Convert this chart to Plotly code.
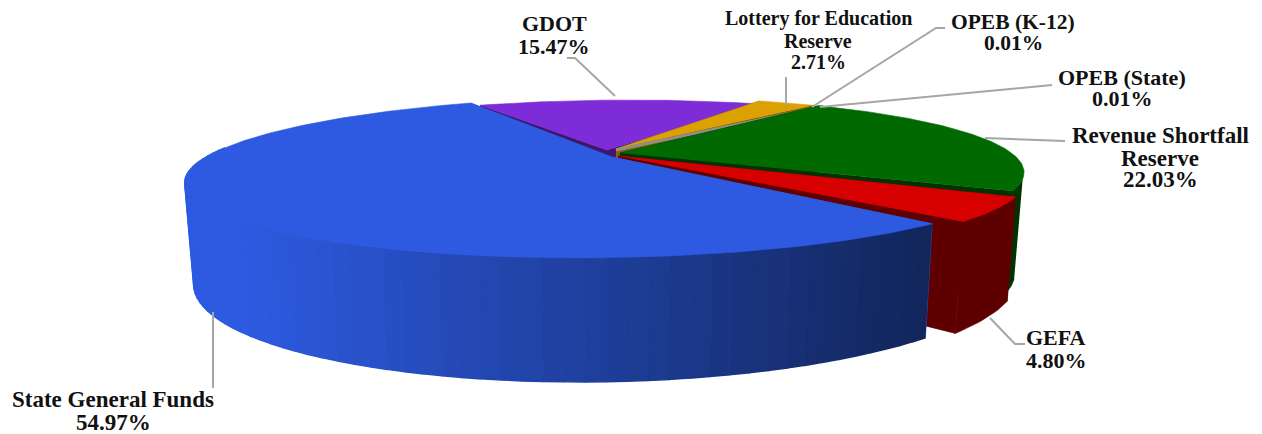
import numpy as np
import plotly.graph_objects as go

# ---- data ----
categories = ["State General Funds", "GDOT", "Lottery for Education Reserve",
              "OPEB (K-12)", "OPEB (State)", "Revenue Shortfall Reserve", "GEFA"]
shares = [54.97, 15.47, 2.71, 0.01, 0.01, 22.03, 4.80]
share_labels = ["54.97%", "15.47%", "2.71%", "0.01%", "0.01%", "22.03%", "4.80%"]

# ---- styles ----
top_colors = ["#2D5AE1", "#7E2BD8", "#DCA000", "#8E8E8E", "#8E8E8E", "#006A00", "#D60000"]
wall_colors = ["#2D5AE1", "#3F1570", "#8A6400", "#8E8E8E", "#8E8E8E", "#003300", "#5E0000"]
apex_shift = [(0, 4), (-5, -3), (4, -4), (4, -3), (4, -3), (8, 0), (6, 3)]
rim_shift = [(1, 0), (0, 3), (0, 0), (0, 0), (0, 0), (0, 0), (3, 6)]
inset_start = [4.5, 0, -3, 0, 0, -1, 0]
inset_end = [2, 3, 2, 0, 0, 0, 1]
draw_order = [1, 2, 3, 4, 5, 6, 0]
first_angle = -44.0

CX, CY, R, S, K, G = 612, 153, 399.5, 73, 0.304, 80
WALL_A, WALL_B, SHRINK = 22, 71, 0.979


def top_xy(theta_deg):
    t = np.radians(theta_deg)
    u, v = np.cos(t), np.sin(t)
    w = 1 + K * v
    return CX + R * u / w - G * (1 / w - 1), CY - S * v / w, w


def bottom(x, y, w):
    return CX + (x - CX) * SHRINK, y + WALL_A + WALL_B / w


def poly(xs, ys, color, lw=0.6):
    return go.Scatter(x=list(xs), y=list(ys), mode="lines", fill="toself", fillcolor=color,
                      line=dict(color=color, width=lw), hoverinfo="skip", showlegend=False)


def mix(c1, c2, f):
    a = [int(c1[i:i + 2], 16) for i in (1, 3, 5)]
    b = [int(c2[i:i + 2], 16) for i in (1, 3, 5)]
    return "#%02x%02x%02x" % tuple(int(round(p + (q - p) * f)) for p, q in zip(a, b))


fig = go.Figure()
edges = first_angle - np.cumsum([0] + shares) * 3.6

for i in draw_order:
    a0 = edges[i] - inset_start[i]
    a1 = edges[i + 1] + inset_end[i]
    dx, dy = rim_shift[i]
    adx, ady = apex_shift[i]
    n = max(3, int(abs(a0 - a1)))
    th = np.linspace(a0, a1, n)
    x0, y0, w = top_xy(th)
    x, y = x0 + dx, y0 + dy
    bx, by = bottom(x0, y0, w)
    bx, by = bx + dx, by + dy
    ax, ay = CX + adx, CY + ady
    abx, aby = CX + adx, CY + ady + WALL_A + WALL_B
    if top_colors[i] != "#8E8E8E":
        # cut faces
        fig.add_trace(poly([ax, x[0], bx[0], abx], [ay, y[0], by[0], aby], wall_colors[i]))
        fig.add_trace(poly([ax, x[-1], bx[-1], abx], [ay, y[-1], by[-1], aby], wall_colors[i]))
        # outer wall
        if i == 0:
            fine = np.linspace(a0, a1, 90)
            fx0, fy0, fw = top_xy(fine)
            fx, fy = fx0 + dx, fy0 + dy
            gx, gy = bottom(fx0, fy0, fw)
            gx, gy = gx + dx, gy + dy
            for j in range(len(fine) - 1):
                if fy[j] < 150 and fy[j + 1] < 150:
                    continue
                f = np.clip((0.5 * (fx[j] + fx[j + 1]) - 240) / (923 - 240), 0, 1)
                col = mix("#2D5AE1", "#12265C", f)
                fig.add_trace(poly([fx[j], fx[j + 1], gx[j + 1], gx[j]],
                                   [fy[j], fy[j + 1], gy[j + 1], gy[j]], col, 1.5))
        else:
            front = np.sin(np.radians(th)) < -K
            if front.sum() >= 2:
                fig.add_trace(poly(np.r_[x[front], bx[front][::-1]],
                                   np.r_[y[front], by[front][::-1]], wall_colors[i]))
        fig.add_trace(poly(np.r_[ax, x], np.r_[ay, y], top_colors[i]))
    else:
        fig.add_trace(go.Scatter(x=[ax, x[0]], y=[ay, y[0]], mode="lines",
                                 line=dict(color=top_colors[i], width=2.5),
                                 hoverinfo="skip", showlegend=False))

# leader lines
leaders = [
    ([213, 213], [312, 388]),
    ([567, 575, 615], [58, 58, 96]),
    ([786, 786], [77, 105]),
    ([945, 936, 812], [28, 28, 107]),
    ([1052, 820], [85, 107]),
    ([1065, 985], [141, 138]),
    ([1025, 1015, 990], [344, 344, 318]),
]
for lx, ly in leaders:
    fig.add_trace(go.Scatter(x=lx, y=ly, mode="lines", line=dict(color="#A6A6A6", width=2),
                             hoverinfo="skip", showlegend=False))

# labels: centre x, y of each text line, font size
label_lines = [
    (113, [399, 422], [categories[0], share_labels[0]], 23),
    (554, [23, 46], [categories[1], share_labels[1]], 22),
    (818, [18, 41, 62], ["Lottery for Education", "Reserve", share_labels[2]], 20),
    (1013, [22, 43], [categories[3], share_labels[3]], 21.5),
    (1122, [77, 98], [categories[4], share_labels[4]], 22),
    (1160, [135, 158, 179], ["Revenue Shortfall", "Reserve", share_labels[5]], 23),
    (1056, [337, 360], [categories[6], share_labels[6]], 22),
]
annotations = []
for cx, ys, texts, size in label_lines:
    for yy, t in zip(ys, texts):
        annotations.append(dict(x=cx, y=yy, text="<b>%s</b>" % t, showarrow=False,
                                xanchor="center", yanchor="middle",
                                font=dict(family="Liberation Serif", size=size, color="#111111")))

fig.update_layout(
    width=1262, height=434, margin=dict(l=0, r=0, t=0, b=0),
    paper_bgcolor="white", plot_bgcolor="white", showlegend=False,
    xaxis=dict(range=[0, 1262], visible=False, fixedrange=True),
    yaxis=dict(range=[434, 0], visible=False, fixedrange=True),
    annotations=annotations,
)
fig.write_html("out.html", config=dict(displayModeBar=False),
               post_script="document.body.style.margin='0';document.body.style.overflow='hidden';")
